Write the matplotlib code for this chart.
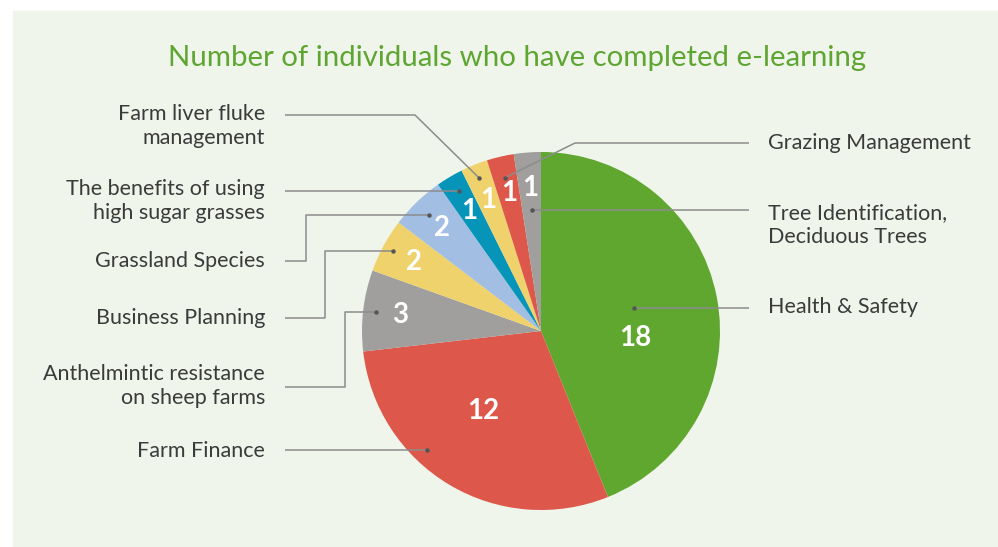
import numpy as np
import matplotlib.pyplot as plt
from matplotlib.patches import Rectangle

# data
courses = ["Health & Safety", "Farm Finance", "Anthelmintic resistance\non sheep farms",
           "Business Planning", "Grassland Species", "The benefits of using\nhigh sugar grasses",
           "Farm liver fluke\nmanagement", "Grazing Management", "Tree Identification,\nDeciduous Trees"]
completed = [18, 12, 3, 2, 2, 1, 1, 1, 1]
colors = ["#60a72f", "#dd574b", "#a09f9d", "#efd26b", "#a2bee3", "#0794b9",
          "#efd26b", "#dd574b", "#a09f9d"]

W, H = 998, 547
def py(y):  # pixel row -> y-up coordinate
    return H - y

CX, CY, R = 541, 331, 179

# layout per wedge: side, text y, line y, elbow x, elbow style, anchor angle offset / radius
side   = ["R", "L", "L", "L", "L", "L", "L", "R", "R"]
text_y = [307, 451, 386, 318, 261, 201, 126, 143, 225]
line_y = [308, 450, 387, 318, 261, 191, 115, 143, 210]
elbow  = [None, None, 345, 325, 306, None, 415, 575, None]
style  = ["h", "h", "o", "o", "o", "h", "d", "d", "h"]
anc_da = [0, -13, 0, 0, 0, 0, 0, 0, 0]
anc_r  = [0.53, 0.92, 0.93, 0.94, 0.90, 0.90, 0.92, 0.88, 0.68]
num_r  = [0.53, 0.55, 0.79, 0.81, 0.80, 0.78, 0.79, 0.79, 0.80]
num_da = [-15, -5, 0, 0, 0, 0, 0, 0, 0]

fig = plt.figure(figsize=(W / 100, H / 100), dpi=100)
fig.patch.set_facecolor("white")
ax = fig.add_axes([0, 0, 1, 1])
ax.set_facecolor("none")
ax.add_patch(Rectangle((13, 0), W - 13, H - 11, color="#eff5ea", zorder=0))

wedges, _ = ax.pie(completed, colors=colors, startangle=90, counterclock=False,
                   center=(CX, py(CY)), radius=R,
                   wedgeprops=dict(linewidth=0, zorder=2))
ax.set_xlim(0, W)
ax.set_ylim(0, H)
ax.set_aspect("auto")
ax.axis("off")

font = "Lato"
line_col = "#8c8c8c"
txt_col = "#3b3b3b"

for i, w in enumerate(wedges):
    mid = np.deg2rad((w.theta1 + w.theta2) / 2)
    # value label
    a = mid + np.deg2rad(num_da[i])
    nx = CX + num_r[i] * R * np.cos(a)
    ny = py(CY) + num_r[i] * R * np.sin(a)
    ax.text(nx, ny, str(completed[i]), color="white", fontsize=20, fontweight="bold",
            family=font, ha="center", va="center", zorder=4)

    # anchor point on wedge
    b = mid + np.deg2rad(anc_da[i])
    ax_ = CX + anc_r[i] * R * np.cos(b)
    ay_ = py(CY) + anc_r[i] * R * np.sin(b)
    ly = py(line_y[i])
    x0 = 285 if side[i] == "L" else 749
    if style[i] == "h":
        ay_ = ly
        xs, ys = [x0, ax_], [ly, ly]
    elif style[i] == "o":
        xs, ys = [x0, elbow[i], elbow[i], ax_], [ly, ly, ay_, ay_]
    else:
        xs, ys = [x0, elbow[i], ax_], [ly, ly, ay_]
    ax.plot(xs, ys, color=line_col, lw=1.1, zorder=3, solid_capstyle="butt")
    ax.plot([ax_], [ay_], "o", color="#555555", ms=2.2, zorder=3)

    if side[i] == "L":
        ax.text(265, py(text_y[i]), courses[i], ha="right", va="center", fontsize=15.5,
                family=font, color=txt_col, linespacing=1.25)
    else:
        ax.text(768, py(text_y[i]), courses[i], ha="left", va="center", fontsize=15.5,
                family=font, color=txt_col, linespacing=1.25)

ax.text(517, py(58), "Number of individuals who have completed e-learning",
        ha="center", va="center", fontsize=21.2, family=font, color="#5ea532")

fig.savefig("out.png", dpi=100, facecolor=fig.get_facecolor())
